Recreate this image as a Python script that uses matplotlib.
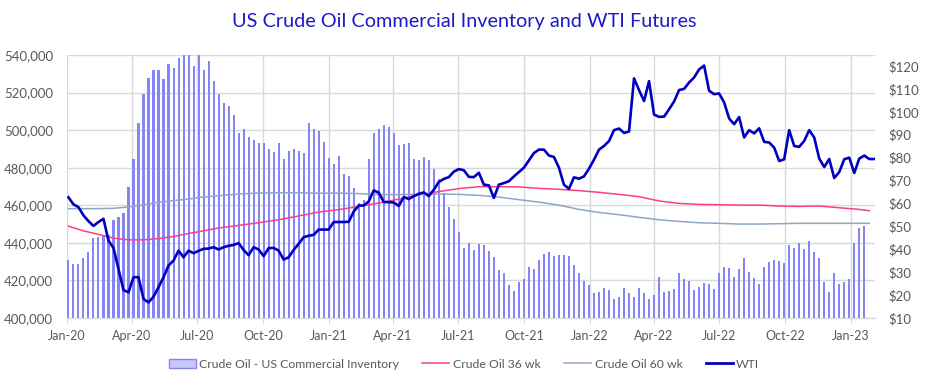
import numpy as np
import matplotlib.pyplot as plt
import matplotlib.dates as mdates
from matplotlib.patches import Patch
from matplotlib.lines import Line2D
from matplotlib.ticker import FuncFormatter, MultipleLocator

# weekly data, first week ending 2020-01-03
start = np.datetime64('2020-01-03')

# US commercial crude inventory (thousand barrels)
inventory = [431, 429, 428.5, 432, 435.3, 442.6, 443, 443.4, 444, 452,
             453.7, 455.8, 469.7, 484.7, 504, 519, 528, 532, 532, 527,
             535, 533, 538.5, 540, 541, 534, 540, 532, 537, 526,
             519, 514.4, 512.8, 508, 498.7, 500.5, 496.6, 494.8, 492.9, 493.4,
             489.7, 488.2, 492.9, 484.8, 488.9, 490, 489, 488, 503.7, 500.7,
             499.8, 493.6, 485.4, 482.2, 486.5, 476.5, 475.8, 469, 461.4, 463,
             484.5, 498.4, 500.7, 502.5, 501.8, 498.4, 492.3, 492.7, 492.9, 484.9,
             484.3, 485.9, 484.2, 479.4, 473.8, 466.5, 458.9, 452.5, 445.6, 437.5,
             440, 436, 439.5, 438.6, 435.6, 432.7, 425.3, 423.7, 417.6, 414.2,
             419, 421, 427.2, 426.3, 431.1, 434.2, 435.2, 432.9, 433.8, 433.3,
             432.9, 428.3, 423.7, 419.9, 417.8, 413.3, 413.7, 416, 415.1, 410.3,
             411.4, 416, 413.5, 411.4, 416, 413.3, 410, 412.3, 421.7, 413.9,
             414.6, 415.7, 424, 421, 419.9, 415, 416.7, 418.7, 418.3, 415.7,
             423.7, 427, 426.7, 422, 426.2, 432, 424.7, 421.5, 418.3, 427,
             429.9, 431, 430.4, 429.2, 439.1, 437.4, 439.7, 436.7, 440.9, 435.2,
             431.7, 419, 413.9, 424.2, 418.3, 419.2, 420.6, 439.9, 448, 448.8]

# WTI futures ($)
wti = [62.7, 59.6, 58.4, 54.8, 52.3, 50.2, 51.9, 53.3, 43.8, 40.6,
       31.4, 22.2, 21.2, 27.8, 27.8, 18.3, 16.8, 19.3, 23.4, 27.8,
       32.9, 35.1, 39.4, 36.5, 39.4, 38.3, 39.3, 40.2, 40.3, 40.9,
       39.9, 40.9, 41.5, 41.9, 42.7, 39.7, 37.4, 40.9, 39.9, 37,
       40.5, 40.6, 39.4, 35.5, 36.5, 39.7, 42.4, 45.3, 45.9, 46.3,
       48.6, 48.6, 48.6, 51.9, 51.9, 51.9, 52, 56.5, 59.1, 59.1,
       60.9, 65.7, 64.7, 60.6, 60.6, 60.4, 58.9, 62.8, 61.9, 63.2,
       64.2, 64.8, 63.2, 66, 69.4, 70.7, 71.5, 73.9, 75, 74.5,
       71.6, 71.5, 73.4, 68.2, 67.9, 62.4, 68.2, 68.9, 69.7, 71.8,
       73.7, 75.6, 78.8, 82, 83.5, 83.5, 80.9, 80.3, 75.6, 68.2,
       66.4, 71.4, 70.8, 71.8, 75.2, 79.1, 83.5, 85.1, 87.2, 92,
       92.7, 90.8, 91.4, 114.6, 109.5, 104.7, 113.4, 98.8, 97.8, 97.9,
       101.1, 104.5, 109.5, 110, 112.8, 115, 118.5, 120.2, 109.2, 107.7,
       108, 104.1, 97.1, 94.6, 97.7, 88.8, 92, 90.6, 92.8, 86.9,
       86.6, 84.4, 78.5, 79.3, 92, 85.1, 84.7, 87.3, 92, 88.8,
       79.6, 75.9, 79.4, 71.1, 73.7, 79.3, 80, 73.3, 79.6, 80.9,
       79.4, 79.4]

# moving averages, read at these week numbers
ma_week = [1, 4, 7, 10, 13, 16, 19, 22, 25, 27, 31, 35, 39, 43, 47, 51,
           55, 59, 63, 67, 71, 75, 79, 83, 87, 91, 95, 99, 103, 107,
           111, 115, 119, 123, 127, 131, 135, 139, 143, 147, 151, 155, 159, 161]
ma36 = [448.9, 446.4, 444.5, 442.5, 441.6, 441.6, 442.3, 443.4, 445,
        445.9, 447.9, 449.3, 450.7, 452.3, 454.3, 456.4,
        457.7, 459.4, 461.2, 463.3, 465.5, 467.3, 468.9,
        469.9, 469.9, 469.8, 469, 468.5, 467.8, 466.9,
        465.8, 464.6, 462.3, 461, 460.5, 460.3, 460.1,
        460.1, 459.6, 459.4, 459.6, 458.7, 457.8, 457.1]
ma60 = [458.2, 458.2, 458.2, 458.4, 459.1, 460.3, 461.6, 462.5, 463.3,
        464.2, 465.1, 466, 466.5, 466.7, 466.7, 466.4,
        466.5, 466.2, 465.7, 465.7, 465.8, 466, 465.8,
        465.3, 464.4, 463, 461.7, 460.1, 457.8, 456.2,
        455, 453.6, 452.3, 451.4, 450.7, 450.4, 450,
        450, 450.2, 450.4, 450.4, 450.4, 450.4, 450.4]

inv_dates = (start + 7 * np.arange(len(inventory))).astype('datetime64[D]').astype(object)
wti_dates = (start + 7 * np.arange(len(wti))).astype('datetime64[D]').astype(object)
ma_dates = (start + 7 * (np.array(ma_week) - 1)).astype('datetime64[D]').astype(object)

plt.rcParams['font.family'] = ['Lato', 'DejaVu Sans']
grey = '#595959'
bar_col = '#8585F8'
c36 = '#FF3D85'
c60 = '#8FA6C4'
cwti = '#0000C0'

fig = plt.figure(figsize=(9.28, 3.88), dpi=100)
ax = fig.add_axes([67 / 928, 70 / 388, 808 / 928, 263 / 388])
ax2 = ax.twinx()

ax.bar(inv_dates, np.array(inventory) * 1000, width=2.9, color=bar_col, lw=0, zorder=2)
ax.plot(ma_dates, np.array(ma36) * 1000, color=c36, lw=1.1, zorder=3)
ax.plot(ma_dates, np.array(ma60) * 1000, color=c60, lw=1.1, zorder=3)
ax2.plot(wti_dates, wti, color=cwti, lw=1.9, zorder=4)

ax.set_ylim(400000, 540000)
ax.yaxis.set_major_locator(MultipleLocator(20000))
ax.yaxis.set_major_formatter(FuncFormatter(lambda v, p: f'{int(v):,}'))
ax2.set_ylim(10, 124.8)
ax2.yaxis.set_major_locator(MultipleLocator(10))
ax2.yaxis.set_major_formatter(FuncFormatter(lambda v, p: f'${int(v)}'))

ax.set_xlim(np.datetime64('2020-01-01').astype(object), np.datetime64('2023-02-04').astype(object))
ax.xaxis.set_major_locator(mdates.MonthLocator(bymonth=[1, 4, 7, 10]))
ax.xaxis.set_major_formatter(mdates.DateFormatter('%b-%y'))

ax.grid(True, color='#D9D9D9', lw=1.0, zorder=0)
ax.set_axisbelow(True)
for a in (ax, ax2):
    for s in a.spines.values():
        s.set_visible(False)
ax.spines['bottom'].set_visible(True)
ax.spines['bottom'].set_color('#D9D9D9')
ax.spines['bottom'].set_linewidth(1.0)
ax.tick_params(axis='x', colors='#D9D9D9', length=4, labelcolor=grey, labelsize=9, pad=5)
ax.tick_params(axis='y', length=0, labelcolor=grey, labelsize=9.5, pad=10)
ax2.tick_params(axis='y', length=0, labelcolor=grey, labelsize=9.5, pad=10)

fig.text(0.5, 0.945, 'US Crude Oil Commercial Inventory and WTI Futures',
         ha='center', va='center', fontsize=14.3, color='#1A1AC8')

handles = [Patch(facecolor='#C8C8FF', edgecolor=bar_col, lw=1),
           Line2D([], [], color=c36, lw=1.1),
           Line2D([], [], color=c60, lw=1.1),
           Line2D([], [], color=cwti, lw=2)]
labels = ['Crude Oil - US Commercial Inventory', 'Crude Oil 36 wk', 'Crude Oil 60 wk', 'WTI']
fig.legend(handles, labels, loc='center', bbox_to_anchor=(0.5, 24 / 388), ncol=4,
           frameon=False, fontsize=8.8, labelcolor=grey, handlelength=2.2,
           handletextpad=0.3, columnspacing=1.9)

plt.savefig('out.png', dpi=100)
